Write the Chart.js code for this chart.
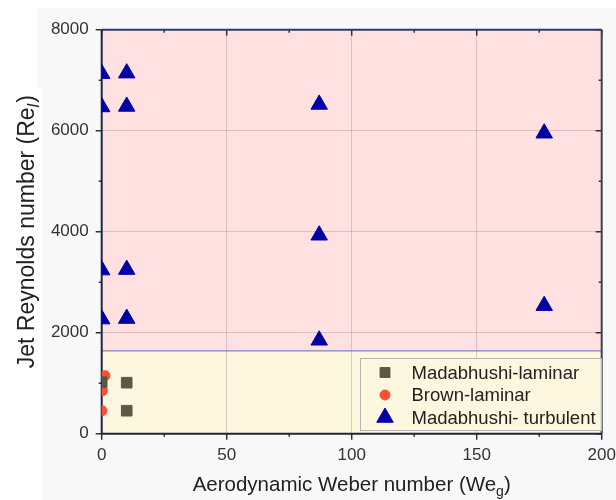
<!DOCTYPE html>
<html>
<head>
<meta charset="utf-8">
<script src="https://cdn.jsdelivr.net/npm/chart.js@4/dist/chart.umd.min.js"></script>
<style>
  html, body { margin: 0; padding: 0; background: #ffffff; }
  #wrap { width: 616px; height: 500px; }
</style>
</head>
<body>
<div id="wrap"><canvas id="weberChart" width="616" height="500"></canvas></div>
<script>
// data
const lamWe = [0, 10, 10];
const lamRe = [1020, 1010, 455];
const brownWe = [1.3, 0.3, 0.1];
const brownRe = [1150, 850, 455];
const turbWe = [0, 0, 0, 0, 10, 10, 10, 10, 87, 87, 87, 177, 177];
const turbRe = [7130, 6470, 3240, 2270, 7140, 6480, 3250, 2280, 6520, 3930, 1850, 5950, 2535];
const seriesNames = ['Madabhushi-laminar', 'Brown-laminar', 'Madabhushi- turbulent'];
const xTicks = [0, 50, 100, 150, 200];
const yTicks = [0, 2000, 4000, 6000, 8000];
const laminarLimit = 1640; // Re where shaded zones meet

const FONT = "'Liberation Sans', Arial, sans-serif";

function toPoints(xs, ys) {
    return xs.map((x, i) => ({ x: x, y: ys[i] }));
}

// background panels and the two shaded regimes
const zonesPlugin = {
    id: 'zones',
    beforeDraw(chart) {
        const c = chart.ctx;
        const xs = chart.scales.x, ys = chart.scales.y;
        c.save();
        c.fillStyle = '#ffffff';
        c.fillRect(0, 0, chart.width, chart.height);
        c.fillStyle = '#f8f8f8';
        c.fillRect(37, 8, chart.width - 37, chart.height - 8);
        c.fillStyle = '#ffffff';
        c.fillRect(8, 88, 35, 285);
        c.fillRect(0, 373, 43, 127);

        const l = xs.getPixelForValue(0), r = xs.getPixelForValue(200);
        const top = ys.getPixelForValue(8000);
        const mid = ys.getPixelForValue(laminarLimit);
        const bot = ys.getPixelForValue(0);
        c.fillStyle = '#fee1e0';
        c.fillRect(l, top, r - l, mid - top);
        c.fillStyle = '#fef7df';
        c.fillRect(l, mid, r - l, bot - mid);
        c.restore();
    },
    beforeDatasetsDraw(chart) {
        const c = chart.ctx;
        const xs = chart.scales.x, ys = chart.scales.y;
        const l = xs.getPixelForValue(0), r = xs.getPixelForValue(200);
        const top = ys.getPixelForValue(8000), bot = ys.getPixelForValue(0);
        const mid = ys.getPixelForValue(laminarLimit);
        c.save();
        // boundary between regimes
        c.strokeStyle = '#5a6aa8';
        c.lineWidth = 1;
        c.beginPath();
        c.moveTo(l, mid);
        c.lineTo(r, mid);
        c.stroke();

        // ticks: outward on left/bottom, inward on top/right
        c.strokeStyle = '#333333';
        c.lineWidth = 1.5;
        for (let v = 0; v <= 200; v += 25) {
            const px = xs.getPixelForValue(v);
            const len = v % 50 === 0 ? 6 : 3;
            c.beginPath();
            c.moveTo(px, bot); c.lineTo(px, bot + len);
            c.moveTo(px, top); c.lineTo(px, top + len);
            c.stroke();
        }
        for (let v = 0; v <= 8000; v += 1000) {
            const py = ys.getPixelForValue(v);
            const len = v % 2000 === 0 ? 6 : 3;
            c.beginPath();
            c.moveTo(l, py); c.lineTo(l - len, py);
            c.moveTo(r, py); c.lineTo(r - len, py);
            c.stroke();
        }

        // frame
        c.lineWidth = 2;
        c.strokeStyle = '#2a3a6a';
        c.beginPath(); c.moveTo(l, top); c.lineTo(r, top); c.stroke();
        c.strokeStyle = '#3c4048';
        c.beginPath(); c.moveTo(r, top); c.lineTo(r, bot); c.stroke();
        c.strokeStyle = '#1c2541';
        c.beginPath(); c.moveTo(l, top); c.lineTo(l, bot); c.lineTo(r, bot); c.stroke();
        c.restore();
    },
    afterDraw(chart) {
        const c = chart.ctx;
        const area = chart.chartArea;
        c.save();
        c.fillStyle = '#222222';

        // x title with subscript g
        c.font = '20.5px ' + FONT;
        c.textBaseline = 'alphabetic';
        const xMain = 'Aerodynamic Weber number (We';
        const wMain = c.measureText(xMain).width;
        c.font = '14px ' + FONT;
        const wSub = c.measureText('g').width;
        c.font = '20.5px ' + FONT;
        const wEnd = c.measureText(')').width;
        let sx = (area.left + area.right) / 2 - (wMain + wSub + wEnd) / 2;
        const by = 491;
        c.fillText(xMain, sx, by);
        c.font = '14px ' + FONT;
        c.fillText('g', sx + wMain, by + 5);
        c.font = '20.5px ' + FONT;
        c.fillText(')', sx + wMain + wSub, by);

        // y title with italic subscript l
        c.translate(34, (area.top + area.bottom) / 2);
        c.rotate(-Math.PI / 2);
        c.font = '23px ' + FONT;
        const yMain = 'Jet Reynolds number (Re';
        const yw = c.measureText(yMain).width;
        c.font = 'italic 16px ' + FONT;
        const ysw = c.measureText('l').width + 1;
        c.font = '23px ' + FONT;
        const yew = c.measureText(')').width;
        const sy = -(yw + ysw + yew) / 2;
        c.fillText(yMain, sy, 0);
        c.font = 'italic 16px ' + FONT;
        c.fillText('l', sy + yw, 5);
        c.font = '23px ' + FONT;
        c.fillText(')', sy + yw + ysw, 0);
        c.restore();

        // legend box in the lower right corner
        c.save();
        const bx = 360, byTop = 358, bw = area.right - 360, bh = 73;
        c.fillStyle = '#fef7df';
        c.fillRect(bx, byTop, bw, bh);
        c.strokeStyle = '#b4b4b4';
        c.lineWidth = 1;
        c.strokeRect(bx + 0.5, byTop + 0.5, bw - 1, bh - 1);
        const rows = [372.5, 395, 417.5];
        c.font = '18.5px ' + FONT;
        c.textBaseline = 'middle';
        chart.data.datasets.forEach((ds, i) => {
            c.fillStyle = ds.backgroundColor;
            c.strokeStyle = ds.borderColor;
            c.lineWidth = ds.borderWidth;
            Chart.helpers.drawPoint(c, {
                pointStyle: ds.pointStyle,
                radius: ds.legendRadius,
                borderWidth: ds.borderWidth,
                rotation: 0
            }, 385, rows[i]);
            c.fillStyle = '#222222';
            c.fillText(ds.label, 411.5, rows[i] + 1);
        });
        c.restore();
    }
};

const ctx = document.getElementById('weberChart').getContext('2d');

new Chart(ctx, {
    type: 'scatter',
    data: {
        datasets: [
            {
                label: seriesNames[0],
                data: toPoints(lamWe, lamRe),
                pointStyle: 'rect',
                pointRadius: 7.5,
                legendRadius: 7,
                backgroundColor: '#5a5944',
                borderColor: '#5a5944',
                borderWidth: 1
            },
            {
                label: seriesNames[1],
                data: toPoints(brownWe, brownRe),
                pointStyle: 'circle',
                pointRadius: 5,
                legendRadius: 5,
                backgroundColor: '#fd4f37',
                borderColor: '#fd4f37',
                borderWidth: 1
            },
            {
                label: seriesNames[2],
                data: toPoints(turbWe, turbRe),
                pointStyle: 'triangle',
                pointRadius: 9.5,
                legendRadius: 9.5,
                backgroundColor: '#0000a6',
                borderColor: '#0000a6',
                borderWidth: 1
            }
        ]
    },
    options: {
        responsive: false,
        animation: false,
        events: [],
        layout: { padding: { left: 8, top: 29.7, right: 14.3, bottom: 0 } },
        plugins: {
            legend: { display: false },
            tooltip: { enabled: false }
        },
        scales: {
            x: {
                type: 'linear',
                min: 0,
                max: 200,
                afterFit: s => {
                    s.height = 66.3;
                    s.paddingLeft = 0;
                    s.paddingRight = 0;
                },
                afterBuildTicks: s => { s.ticks = xTicks.map(v => ({ value: v })); },
                border: { display: false },
                grid: {
                    drawTicks: false,
                    color: c => (c.tick && c.tick.value > 0 && c.tick.value < 200) ? 'rgba(150,130,130,0.35)' : 'rgba(0,0,0,0)'
                },
                ticks: {
                    padding: 11,
                    color: '#333333',
                    font: { family: FONT, size: 17 },
                    callback: v => String(v)
                }
            },
            y: {
                type: 'linear',
                min: 0,
                max: 8000,
                afterFit: s => {
                    s.width = 93.7;
                    s.paddingTop = 0;
                    s.paddingBottom = 0;
                },
                afterBuildTicks: s => { s.ticks = yTicks.map(v => ({ value: v })); },
                border: { display: false },
                grid: {
                    drawTicks: false,
                    color: c => (c.tick && c.tick.value > 0 && c.tick.value < 8000) ? 'rgba(150,130,130,0.35)' : 'rgba(0,0,0,0)'
                },
                ticks: {
                    padding: 13,
                    color: '#333333',
                    font: { family: FONT, size: 17 },
                    callback: v => String(v)
                }
            }
        }
    },
    plugins: [zonesPlugin]
});
</script>
</body>
</html>
